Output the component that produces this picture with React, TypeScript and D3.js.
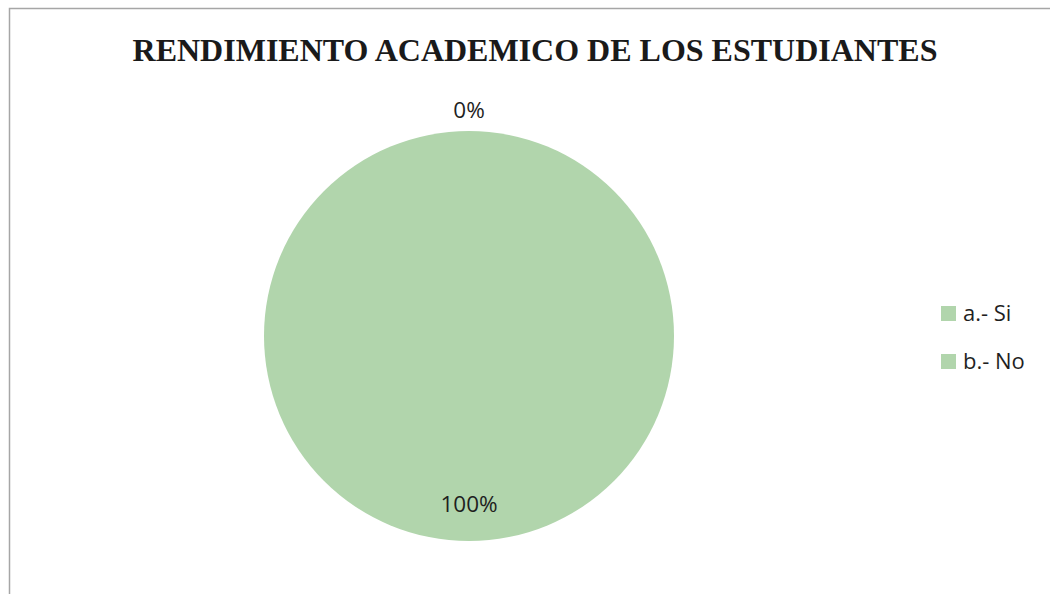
import React from 'react';
import * as d3 from 'd3';

// chart data
const categories = ['a.- Si', 'b.- No'];
const values = [0, 100];
const labels = ['0%', '100%'];
const title = 'RENDIMIENTO ACADEMICO DE LOS ESTUDIANTES';

const W = 1050;
const H = 594;
const green = '#b1d5ac';

const App = () => {
  const cx = 469;
  const cy = 336;
  const r = 205;

  const pie = d3.pie<number>().sort(null).value((d) => d);
  const arcs = pie(values);
  const arc = d3.arc<d3.PieArcDatum<number>>().innerRadius(0).outerRadius(r);

  // label radius: tiny slices outside, large ones inside
  const labelPos = (a: d3.PieArcDatum<number>) => {
    const mid = (a.startAngle + a.endAngle) / 2;
    const rr = a.endAngle - a.startAngle < 0.2 ? r + 21 : r * 0.82;
    return [Math.sin(mid) * rr, -Math.cos(mid) * rr];
  };

  return (
    <div style={{ position: 'absolute', left: 0, top: 0, width: W, height: H, background: 'white' }}>
      <svg width={W} height={H}>
        {/* chart frame */}
        <path d={`M9.5,${H} V8.5 H${W}`} fill="none" stroke="#a6a6a6" strokeWidth={1.5} />

        <text
          x={535}
          y={61}
          textAnchor="middle"
          fontFamily="'Liberation Serif', 'Times New Roman', serif"
          fontWeight="bold"
          fontSize={32}
          fill="#1a1a1a"
        >
          {title}
        </text>

        <g transform={`translate(${cx},${cy})`}>
          {arcs.map((a, i) => (
            <path key={i} d={arc(a) || ''} fill={green} />
          ))}
          {arcs.map((a, i) => {
            const [x, y] = labelPos(a);
            return (
              <text
                key={'l' + i}
                x={x}
                y={y}
                dy="0.35em"
                textAnchor="middle"
                fontFamily="'Open Sans', 'Noto Sans', sans-serif"
                fontSize={22.5}
                fill="#1f1f1f"
              >
                {labels[i]}
              </text>
            );
          })}
        </g>

        {/* legend */}
        {categories.map((c, i) => (
          <g key={c} transform={`translate(941,${306 + i * 48})`}>
            <rect width={15} height={15} fill={green} />
            <text
              x={22}
              y={15}
              fontFamily="'Open Sans', 'Noto Sans', sans-serif"
              fontSize={22}
              fill="#1f1f1f"
            >
              {c}
            </text>
          </g>
        ))}
      </svg>
    </div>
  );
};

export default App;
